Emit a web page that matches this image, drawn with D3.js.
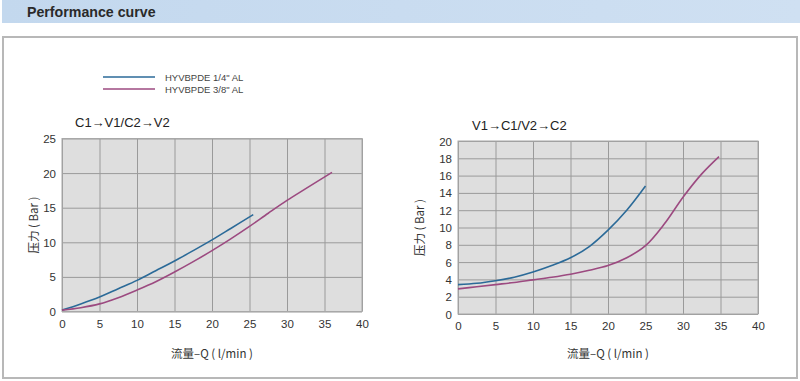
<!DOCTYPE html>
<html><head><meta charset="utf-8">
<script src="https://cdn.jsdelivr.net/npm/d3@7"></script>
<style>body{margin:0;background:#fff}svg{display:block}</style>
</head><body>
<svg id="c" width="800" height="381"></svg>
<script>
const seriesNames = ["HYVBPDE 1/4\" AL", "HYVBPDE 3/8\" AL"];
const leftTitle = "C1→V1/C2→V2";
const rightTitle = "V1→C1/V2→C2";
const xTicks = [0,5,10,15,20,25,30,35,40];
const leftYTicks = [0,5,10,15,20,25];
const rightYTicks = [0,2,4,6,8,10,12,14,16,18,20];
// left chart
const leftQ1 = [0,2.5,5,7.5,10,12.5,15,17.5,20,22.5,25.5];
const leftP1 = [0.2,1.1,2.1,3.3,4.5,5.9,7.3,8.8,10.35,12.0,14.0];
const leftQ2 = [0,2.5,5,7.5,10,12.5,15,17.5,20,22.5,25,27.5,30,32.5,36];
const leftP2 = [0.2,0.55,1.1,2.0,3.1,4.3,5.7,7.2,8.8,10.5,12.3,14.2,16.05,17.75,20.1];
// right chart
const rightQ1 = [0,2.5,5,7.5,10,12.5,15,17.5,20,22.5,25];
const rightP1 = [3.4,3.55,3.85,4.25,4.85,5.6,6.5,7.8,9.7,12.0,14.8];
const rightQ2 = [0,2.5,5,7.5,10,12.5,15,17.5,20,22.5,25,27.5,30,32.5,34.8];
const rightP2 = [2.9,3.15,3.4,3.65,3.95,4.25,4.6,5.05,5.6,6.5,7.9,10.4,13.5,16.2,18.2];
const colors = ["#2b6a98","#9c4a80"];

const svg = d3.select("#c");
// header band
const g0 = svg.append("defs").append("linearGradient").attr("id","hb").attr("x1",0).attr("x2",1);
g0.append("stop").attr("offset","0%").attr("stop-color","#c3d8ee");
g0.append("stop").attr("offset","100%").attr("stop-color","#cfe0f2");
svg.append("rect").attr("x",2).attr("y",0).attr("width",798).attr("height",23).attr("fill","url(#hb)");
svg.append("text").attr("x",27).attr("y",16.5).text("Performance curve")
  .attr("font-family","Liberation Sans, Arial, sans-serif").attr("font-weight","bold").attr("font-size",14.2).attr("fill","#2a2a2a");
// frame
svg.append("rect").attr("x",3).attr("y",37).attr("width",794).attr("height",341)
  .attr("fill","#fff").attr("stroke","#b8b8b8").attr("stroke-width",2);

// legend
seriesNames.forEach((n,i)=>{
  const y = 77 + i*12;
  svg.append("line").attr("x1",103).attr("x2",155).attr("y1",y).attr("y2",y).attr("stroke",colors[i]).attr("stroke-width",1.6);
  svg.append("text").attr("x",165).attr("y",y+3.5).text(n)
    .attr("font-family","Liberation Sans, Arial, sans-serif").attr("font-size",9.5).attr("fill","#444");
});

function chart(opt){
  const x = d3.scaleLinear().domain([0,40]).range([opt.x0,opt.x1]);
  const y = d3.scaleLinear().domain([0,opt.ymax]).range([opt.y0,opt.y1]);
  const g = svg.append("g");
  g.append("rect").attr("x",opt.x0).attr("y",opt.y1).attr("width",opt.x1-opt.x0).attr("height",opt.y0-opt.y1).attr("fill","#dedede");
  const gx = g.append("g").attr("transform",`translate(0,${opt.y0})`)
    .call(d3.axisBottom(x).tickValues(xTicks).tickSize(-(opt.y0-opt.y1)).tickPadding(8));
  const gy = g.append("g").attr("transform",`translate(${opt.x0},0)`)
    .call(d3.axisLeft(y).tickValues(opt.yTicks).tickSize(-(opt.x1-opt.x0)).tickPadding(6));
  [gx,gy].forEach(a=>{
    a.select(".domain").remove();
    a.selectAll(".tick line").attr("stroke","#9a9a9a").attr("stroke-width",1);
    a.selectAll("text").attr("font-family","Liberation Sans, Arial, sans-serif").attr("font-size",11.5).attr("fill","#333");
  });
  gy.selectAll("text").attr("dy","0.35em");
  g.append("rect").attr("x",opt.x0).attr("y",opt.y1).attr("width",opt.x1-opt.x0).attr("height",opt.y0-opt.y1)
    .attr("fill","none").attr("stroke","#a8a8a8");
  const line = d3.line().x(d=>x(d[0])).y(d=>y(d[1])).curve(d3.curveCatmullRom.alpha(0.5));
  opt.series.forEach((s,i)=>{
    g.append("path").attr("d",line(s[0].map((q,j)=>[q,s[1][j]]))).attr("fill","none")
      .attr("stroke",colors[i]).attr("stroke-width",1.6);
  });
  g.append("text").attr("x",opt.tx).attr("y",opt.ty).text(opt.title)
    .attr("font-family","Liberation Sans, Arial, sans-serif").attr("font-size",13).attr("fill","#222");
  g.append("text").attr("x",(opt.x0+opt.x1)/2).attr("y",358).attr("text-anchor","middle")
    .text("流量–Q ( l/min )").attr("font-family","Noto Sans CJK SC, Liberation Sans, sans-serif").attr("font-size",11.5).attr("fill","#333");
  g.append("text").attr("transform",`translate(${opt.ylx},${(opt.y0+opt.y1)/2}) rotate(-90)`).attr("text-anchor","middle")
    .text("压力 ( Bar )").attr("font-family","Noto Sans CJK SC, Liberation Sans, sans-serif").attr("font-size",11.5).attr("fill","#333");
}

chart({x0:62,x1:362,y0:311.5,y1:138.5,ymax:25,yTicks:leftYTicks,title:leftTitle,tx:75,ty:127,ylx:38,
  series:[[leftQ1,leftP1],[leftQ2,leftP2]]});
chart({x0:458,x1:758,y0:314,y1:141,ymax:20,yTicks:rightYTicks,title:rightTitle,tx:472,ty:130,ylx:424,
  series:[[rightQ1,rightP1],[rightQ2,rightP2]]});
</script>
</body></html>
